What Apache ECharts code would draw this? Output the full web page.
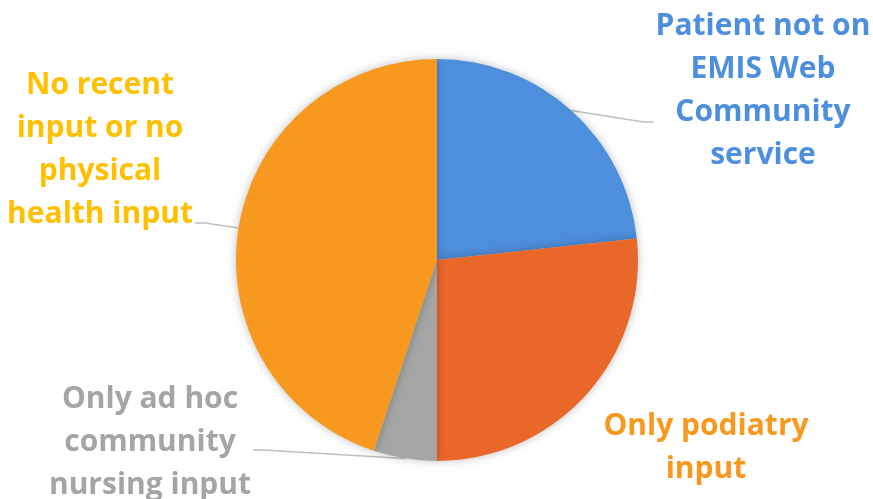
<!DOCTYPE html>
<html>
<head>
<meta charset="utf-8">
<script src="https://cdn.jsdelivr.net/npm/echarts@6/dist/echarts.min.js"></script>
<style>
  html, body { margin: 0; padding: 0; background: #fff; }
  #chart { width: 873px; height: 499px; }
</style>
</head>
<body>
<div id="chart"></div>
<script>
// categories and values (share of patients)
const categories = [
  "Patient not on\nEMIS Web\nCommunity\nservice",
  "Only podiatry\ninput",
  "Only ad hoc\ncommunity\nnursing input",
  "No recent\ninput or no\nphysical\nhealth input"
];
const values = [23.3, 26.7, 5.1, 44.9];
const sliceColors = ["#4E8FDD", "#EA672A", "#A5A5A5", "#F7991F"];
const labelColors = ["#4E8FDD", "#F7991F", "#A5A5A5", "#FFC000"];

// where each label sits (centre of the text block) and where its leader line ends
const labelPlaces = [
  { x: 763, y: 91, lineY: 122, side: "left" },
  { x: 706, y: 448, lineY: null },
  { x: 150, y: 442, lineY: 450, side: "right" },
  { x: 100, y: 150, lineY: 223, side: "right" }
];

const chart = echarts.init(document.getElementById("chart"));

chart.setOption({
  animation: false,
  series: [{
    type: "pie",
    center: [437, 260],
    radius: 201,
    startAngle: 90,
    clockwise: true,
    avoidLabelOverlap: false,
    itemStyle: {
      shadowBlur: 10,
      shadowColor: "rgba(0,0,0,0.25)"
    },
    label: {
      show: true,
      formatter: "{b}",
      fontFamily: "Open Sans",
      fontWeight: "bold",
      fontSize: 30,
      lineHeight: 43,
      align: "center"
    },
    labelLine: {
      show: true,
      lineStyle: { color: "#BFBFBF", width: 1.5 }
    },
    emphasis: { disabled: true },
    labelLayout: function (params) {
      const p = labelPlaces[params.dataIndex];
      const out = { x: p.x, y: p.y, align: "center", verticalAlign: "middle" };
      if (p.lineY != null && params.labelLinePoints) {
        const w = params.labelRect.width;
        const start = params.labelLinePoints[0];
        const ex = p.side === "left" ? p.x - w / 2 - 2 : p.x + w / 2 + 2;
        const bend = p.side === "left" ? ex - 10 : ex + 10;
        out.labelLinePoints = [start, [bend, p.lineY], [ex, p.lineY]];
      }
      return out;
    },
    data: categories.map((name, i) => ({
      name: name,
      value: values[i],
      itemStyle: { color: sliceColors[i] },
      label: { color: labelColors[i] },
      labelLine: { show: labelPlaces[i].lineY != null }
    }))
  }]
});
</script>
</body>
</html>
